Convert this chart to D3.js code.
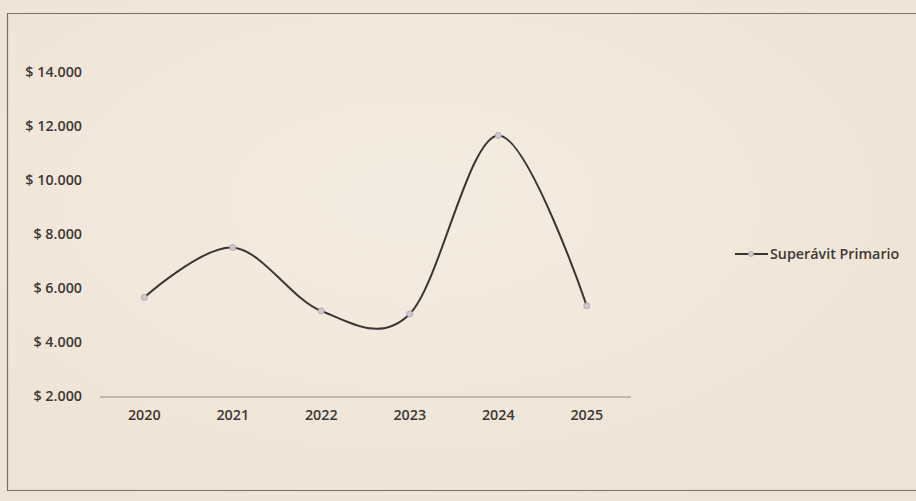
<!DOCTYPE html>
<html>
<head>
<meta charset="utf-8">
<script src="https://cdn.jsdelivr.net/npm/d3@7"></script>
<style>
  html, body { margin: 0; padding: 0; background: #f0e6d9; }
  svg { display: block; }
  .tick-label { font-family: "Open Sans", sans-serif; font-size: 14.3px; font-weight: 600; fill: #3d3835; }
  .legend-label { font-family: "Open Sans", sans-serif; font-size: 14.3px; font-weight: 600; fill: #3d3835; }
</style>
</head>
<body>
<svg id="chart" width="916" height="501"></svg>
<script>
// ── Data ──
const years = ["2020", "2021", "2022", "2023", "2024", "2025"];
const superavit = [5650, 7500, 5150, 5040, 11650, 5340];
const yTicks = [2000, 4000, 6000, 8000, 10000, 12000, 14000];
const seriesName = "Superávit Primario";

// ── Dimensions ──
const W = 916, H = 501;
const plot = { left: 100, right: 631, top: 72, bottom: 396 };

const svg = d3.select("#chart");

// paper background with a soft light patch
const defs = svg.append("defs");
const grad = defs.append("radialGradient").attr("id", "paper")
  .attr("cx", "45%").attr("cy", "40%").attr("r", "70%");
grad.append("stop").attr("offset", "0%").attr("stop-color", "#f5ece1");
grad.append("stop").attr("offset", "100%").attr("stop-color", "#eee3d4");
svg.append("rect").attr("width", W).attr("height", H).attr("fill", "url(#paper)");

// ── Frame (only top, left and bottom edges show) ──
svg.append("path")
  .attr("d", `M${W},13.5 H7.5 V490.5 H${W}`)
  .attr("fill", "none")
  .attr("stroke", "#76716c")
  .attr("stroke-width", 1.2);

// ── Scales ──
const x = d3.scaleBand()
  .domain(years)
  .range([plot.left, plot.right]);

const y = d3.scaleLinear()
  .domain([2000, 14000])
  .range([plot.bottom, plot.top]);

// ── Y labels (no axis line) ──
svg.selectAll(".y-label")
  .data(yTicks)
  .join("text")
  .attr("class", "tick-label")
  .attr("x", 82)
  .attr("y", d => y(d))
  .attr("dy", "0.35em")
  .attr("text-anchor", "end")
  .text(d => "$ " + d3.format(",")(d).replace(/,/g, "."));

// ── X axis ──
svg.append("line")
  .attr("x1", plot.left).attr("x2", plot.right)
  .attr("y1", y(2000) + 1).attr("y2", y(2000) + 1)
  .attr("stroke", "#8e8983")
  .attr("stroke-width", 1);

svg.selectAll(".x-label")
  .data(years)
  .join("text")
  .attr("class", "tick-label")
  .attr("x", d => x(d) + x.bandwidth() / 2)
  .attr("y", 420)
  .attr("text-anchor", "middle")
  .text(d => d);

// ── Smoothed line ──
const pts = years.map((yr, i) => [x(yr) + x.bandwidth() / 2, y(superavit[i])]);

svg.append("path")
  .datum(pts)
  .attr("fill", "none")
  .attr("stroke", "#3b3634")
  .attr("stroke-width", 2)
  .attr("d", d3.line().curve(d3.curveCardinal.tension(0)));

svg.selectAll(".marker")
  .data(pts)
  .join("circle")
  .attr("class", "marker")
  .attr("cx", d => d[0])
  .attr("cy", d => d[1])
  .attr("r", 3)
  .attr("fill", "#cfc8cf")
  .attr("stroke", "#a9a1ab")
  .attr("stroke-width", 0.8);

// ── Legend ──
const lg = svg.append("g").attr("transform", "translate(735,254)");
lg.append("line")
  .attr("x1", 0).attr("x2", 33)
  .attr("y1", 0).attr("y2", 0)
  .attr("stroke", "#3b3634").attr("stroke-width", 2);
lg.append("circle")
  .attr("cx", 16).attr("cy", 0).attr("r", 2.5)
  .attr("fill", "#cfc8cf").attr("stroke", "#a9a1ab").attr("stroke-width", 0.8);
lg.append("text")
  .attr("class", "legend-label")
  .attr("x", 35)
  .attr("y", 0)
  .attr("dy", "0.35em")
  .text(seriesName);
</script>
</body>
</html>
